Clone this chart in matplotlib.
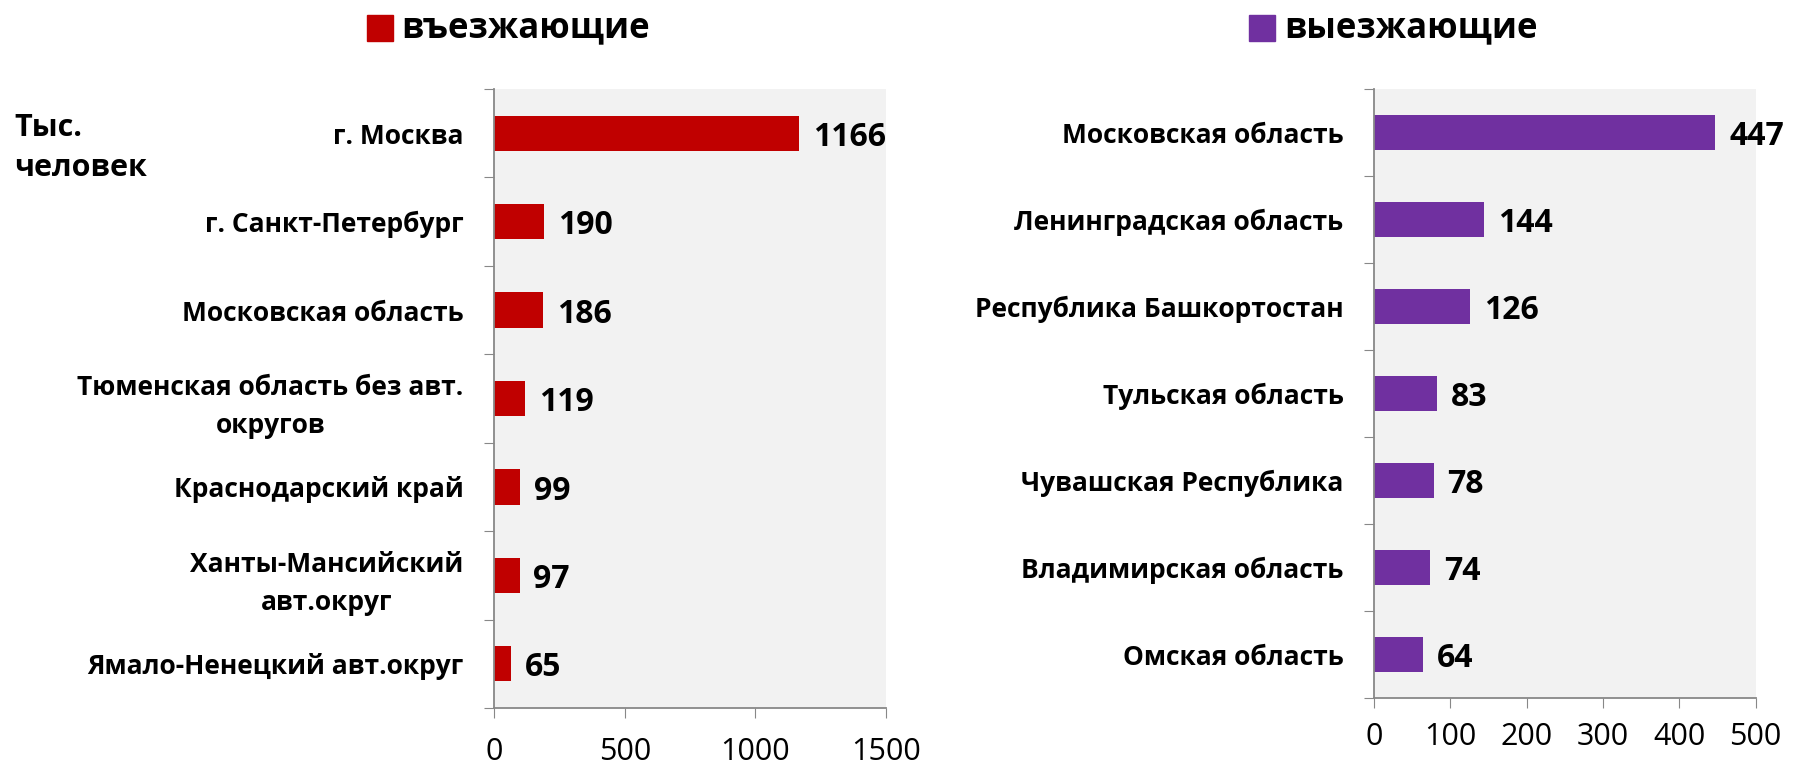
import matplotlib
matplotlib.use("Agg")
from matplotlib import pyplot as plt
from matplotlib.patches import Rectangle

plt.rcParams['font.family'] = ['Open Sans', 'DejaVu Sans']

# data
in_regions = ['г. Москва', 'г. Санкт-Петербург', 'Московская область',
              'Тюменская область без авт.\nокругов', 'Краснодарский край',
              'Ханты-Мансийский\nавт.округ', 'Ямало-Ненецкий авт.округ']
in_values = [1166, 190, 186, 119, 99, 97, 65]
out_regions = ['Московская область', 'Ленинградская область', 'Республика Башкортостан',
               'Тульская область', 'Чувашская Республика', 'Владимирская область',
               'Омская область']
out_values = [447, 144, 126, 83, 78, 74, 64]
in_ticks = [0, 500, 1000, 1500]
out_ticks = [0, 100, 200, 300, 400, 500]

RED = '#C00000'
PURPLE = '#7030A0'

fig = plt.figure(figsize=(17.97, 7.69), dpi=100)
ax1 = fig.add_axes([0.275, 0.0793, 0.218, 0.805])
ax2 = fig.add_axes([0.7646, 0.0923, 0.2124, 0.792])


def draw(ax, names, vals, ticks, color, xpad):
    n = len(names)
    pos = list(range(n))
    ax.set_facecolor('#F2F2F2')
    ax.barh(pos, vals, height=0.4, color=color, zorder=2)
    ax.set_ylim(n - 0.5, -0.5)
    ax.set_xlim(ticks[0], ticks[-1])
    ax.set_xticks(ticks)
    ax.set_xticklabels([str(t) for t in ticks], fontsize=22)
    ax.set_yticks([i - 0.5 for i in range(n + 1)])
    ax.set_yticklabels([])
    ax.set_yticks(pos, minor=True)
    ax.set_yticklabels(names, minor=True, fontsize=19, fontweight='bold')
    for lab in ax.get_yticklabels(minor=True):
        lab.set_multialignment('center')
        lab.set_linespacing(1.5)
    ax.tick_params(axis='y', which='minor', length=0, pad=22)
    ax.tick_params(axis='y', which='major', length=7, color='#888888', direction='out')
    ax.tick_params(axis='x', length=7, color='#888888', direction='out', pad=xpad)
    for s in ['top', 'right']:
        ax.spines[s].set_visible(False)
    for s in ['left', 'bottom']:
        ax.spines[s].set_color('#888888')
        ax.spines[s].set_linewidth(1.3)
    # value labels next to bars
    for p, v in zip(pos, vals):
        ax.annotate(str(v), (v, p), xytext=(10, -3), textcoords='offset points',
                    va='center', ha='left', fontsize=23, fontweight='bold')


draw(ax1, in_regions, in_values, in_ticks, RED, 14)
draw(ax2, out_regions, out_values, out_ticks, PURPLE, 10)

# legends
fig.patches.append(Rectangle((367 / 1797, 1 - 41 / 769), 26 / 1797, 26 / 769,
                             transform=fig.transFigure, color=RED))
fig.text(401 / 1797, 1 - 28 / 769, 'въезжающие', fontsize=25, fontweight='bold',
         va='center', ha='left')
fig.patches.append(Rectangle((1249 / 1797, 1 - 41 / 769), 26 / 1797, 26 / 769,
                             transform=fig.transFigure, color=PURPLE))
fig.text(1284 / 1797, 1 - 28 / 769, 'выезжающие', fontsize=25, fontweight='bold',
         va='center', ha='left')

fig.text(14 / 1797, 1 - 148 / 769, 'Тыс.\nчеловек', fontsize=22, fontweight='bold',
         va='center', ha='left', linespacing=1.45)

fig.savefig('out.png', dpi=100)
